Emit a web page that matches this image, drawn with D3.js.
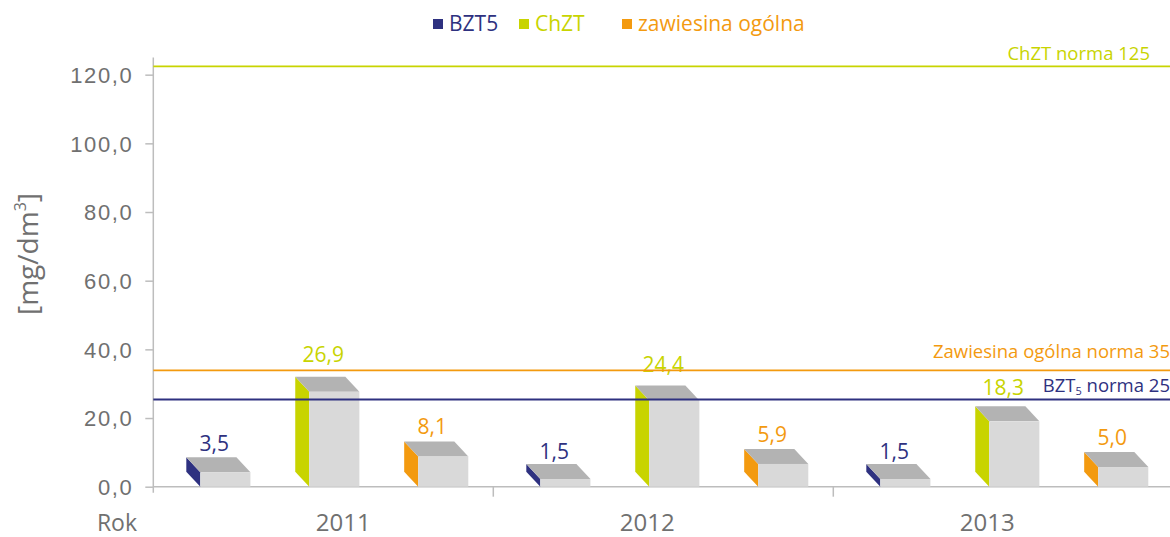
<!DOCTYPE html>
<html>
<head>
<meta charset="utf-8">
<script src="https://cdn.jsdelivr.net/npm/d3@7"></script>
<style>
  body { margin: 0; background: #fff; }
  svg { display: block; font-family: "Open Sans", "Noto Sans", sans-serif; }
</style>
</head>
<body>
<div id="chart"></div>
<script>
// data
const years = ['2011', '2012', '2013'];
const series = ['BZT5', 'ChZT', 'zawiesina ogólna'];
const bzt5 = [3.5, 1.5, 1.5];
const chzt = [26.9, 24.4, 18.3];
const zawiesina = [8.1, 5.9, 5.0];
const yTicks = [0, 20, 40, 60, 80, 100, 120];
// norm lines as drawn in the picture
const normValues = [122.4, 33.9, 25.4];
const normLabels = ['ChZT norma 125', 'Zawiesina ogólna norma 35', 'BZT5 norma 25'];

const colors = { 'BZT5': '#2e3180', 'ChZT': '#c8d400', 'zawiesina ogólna': '#f39a0f' };
const normColors = ['#c8d400', '#f39a0f', '#2e3180'];
const axisGray = '#bdbdbd';
const textGray = '#707070';

const width = 1170, height = 537;
const svg = d3.select('#chart').append('svg')
  .attr('width', width).attr('height', height);

const y = d3.scaleLinear().domain([0, 125]).range([486.7, 57.5]);
const x0 = d3.scaleBand().domain(years).range([153.3, 1173.3]);
const x1 = d3.scaleBand().domain(series).range([47, 315]).paddingInner(0.54);

const rows = years.map((yr, i) => ({
  year: yr,
  values: [
    { key: 'BZT5', v: bzt5[i] },
    { key: 'ChZT', v: chzt[i] },
    { key: 'zawiesina ogólna', v: zawiesina[i] }
  ]
}));

// y axis
const yAxis = d3.axisLeft(y).tickValues(yTicks).tickSize(8).tickPadding(12)
  .tickFormat(d => d3.format('.1f')(d).replace('.', ','));
const yg = svg.append('g').attr('transform', 'translate(153.3,0)').call(yAxis);
yg.select('.domain').remove();
yg.selectAll('.tick line').attr('stroke', axisGray).attr('stroke-width', 1.5);
yg.selectAll('.tick text').attr('fill', textGray).style('font-size', '22px')
  .style('letter-spacing', '1.6px').attr('dy', '0.36em');

svg.append('line').attr('x1', 153.3).attr('x2', 153.3)
  .attr('y1', y(125)).attr('y2', y(0) + 6)
  .attr('stroke', axisGray).attr('stroke-width', 1.5);

// x axis
svg.append('line').attr('x1', 153.3).attr('x2', width)
  .attr('y1', y(0)).attr('y2', y(0))
  .attr('stroke', axisGray).attr('stroke-width', 1.5);
svg.selectAll('.xtick').data(years.slice(1)).enter().append('line')
  .attr('x1', d => x0(d)).attr('x2', d => x0(d))
  .attr('y1', y(0)).attr('y2', y(0) + 10)
  .attr('stroke', axisGray).attr('stroke-width', 1.5);
const yearShift = [20, -16, -16];
svg.selectAll('.xlabel').data(years).enter().append('text')
  .attr('x', (d, i) => x0(d) + x0.bandwidth() / 2 + yearShift[i])
  .attr('y', 531)
  .attr('text-anchor', 'middle')
  .attr('fill', textGray).style('font-size', '24px')
  .text(d => d);
svg.append('text').attr('x', 137).attr('y', 531).attr('text-anchor', 'end')
  .attr('fill', textGray).style('font-size', '23px').text('Rok');

// y title
const yt = svg.append('text')
  .attr('transform', 'translate(38,254) rotate(-90)')
  .attr('text-anchor', 'middle')
  .attr('fill', textGray).style('font-size', '28px');
yt.append('tspan').text('[mg/dm');
yt.append('tspan').attr('dy', -12).style('font-size', '16px').text('3');
yt.append('tspan').attr('dy', 12).text(']');

// 3D boxes
const dx = 14, dy = 15, lift = 2.5;
const bw = x1.bandwidth();
const groups = svg.selectAll('.grp').data(rows).enter().append('g')
  .attr('transform', d => `translate(${x0(d.year)},0)`);

groups.each(function(row) {
  const g = d3.select(this);
  row.values.forEach(d => {
    const xl = x1(d.key);
    const xr = xl + bw;
    const top = y(d.v) - lift;
    const base = y(0);
    // side face
    g.append('polygon')
      .attr('points', [[xl - dx, top - dy], [xl, top], [xl, base], [xl - dx, base - dy]].join(' '))
      .attr('fill', colors[d.key]);
    // top face
    g.append('polygon')
      .attr('points', [[xl - dx, top - dy], [xr - dx, top - dy], [xr, top], [xl, top]].join(' '))
      .attr('fill', '#b3b3b3');
    // front face
    g.append('rect').attr('x', xl).attr('y', top).attr('width', bw).attr('height', base - top)
      .attr('fill', '#d9d9d9');
    // value label
    g.append('text')
      .attr('x', xl + 14)
      .attr('y', top - 20 - 0.35 * d.v)
      .attr('text-anchor', 'middle')
      .attr('fill', colors[d.key]).style('font-size', '21px')
      .text(d3.format('.1f')(d.v).replace('.', ','));
  });
});

// norm lines
const labelOffsets = [-6, -12, -7];
const labelEnds = [1150, 1170, 1170];
normValues.forEach((v, i) => {
  svg.append('line').attr('x1', 153.3).attr('x2', width)
    .attr('y1', y(v)).attr('y2', y(v))
    .attr('stroke', normColors[i]).attr('stroke-width', 1.8);
  const t = svg.append('text')
    .attr('x', labelEnds[i]).attr('y', y(v) + labelOffsets[i])
    .attr('text-anchor', 'end')
    .attr('fill', normColors[i]).style('font-size', '18.5px');
  if (i === 2) {
    t.append('tspan').text('BZT');
    t.append('tspan').attr('dy', 3).style('font-size', '11px').text('5');
    t.append('tspan').attr('dy', -3).text(' norma 25');
  } else {
    t.text(normLabels[i]);
  }
});

// legend
const legendX = [433, 519, 622];
const lg = svg.selectAll('.leg').data(series).enter().append('g')
  .attr('transform', (d, i) => `translate(${legendX[i]},0)`);
lg.append('rect').attr('x', 0).attr('y', 19).attr('width', 10).attr('height', 10)
  .attr('fill', d => colors[d]);
lg.append('text').attr('x', 16).attr('y', 31)
  .attr('fill', d => colors[d]).style('font-size', '21px')
  .text(d => d);
</script>
</body>
</html>
